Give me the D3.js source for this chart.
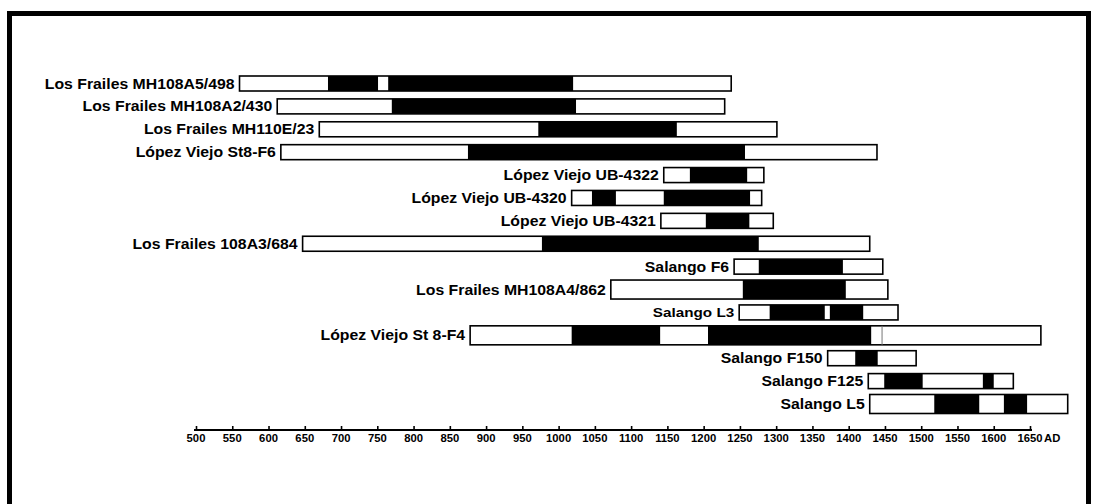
<!DOCTYPE html>
<html>
<head>
<meta charset="utf-8">
<script src="https://cdn.jsdelivr.net/npm/d3@7"></script>
<style>
  html, body { margin: 0; padding: 0; background: #fff; }
  svg { display: block; }
  text { font-family: "Liberation Sans", Arial, sans-serif; font-weight: bold; fill: #000; }
</style>
</head>
<body>
<svg id="chart" width="1098" height="504"></svg>
<script>
// Sample labels, top to bottom
const samples = [
  "Los Frailes MH108A5/498",
  "Los Frailes MH108A2/430",
  "Los Frailes MH110E/23",
  "López Viejo St8-F6",
  "López Viejo UB-4322",
  "López Viejo UB-4320",
  "López Viejo UB-4321",
  "Los Frailes 108A3/684",
  "Salango F6",
  "Los Frailes MH108A4/862",
  "Salango L3",
  "López Viejo St 8-F4",
  "Salango F150",
  "Salango F125",
  "Salango L5"
];

// Full calibrated range (years AD) of each sample
const fullRange = [
  [560, 1238], [612, 1229], [670, 1301], [617, 1439], [1145, 1283],
  [1018, 1280], [1141, 1296], [647, 1429], [1242, 1447], [1072, 1454],
  [1249, 1468], [878, 1665], [1371, 1493], [1427, 1627], [1429, 1702]
];

// Higher-probability intervals (filled black)
const coreRanges = [
  [[682, 751], [765, 1020]],
  [[770, 1024]],
  [[972, 1163]],
  [[875, 1257]],
  [[1181, 1260]],
  [[1046, 1079], [1145, 1264]],
  [[1203, 1263]],
  [[977, 1276]],
  [[1276, 1392]],
  [[1254, 1396]],
  [[1291, 1367], [1374, 1420]],
  [[1018, 1140], [1206, 1431]],
  [[1409, 1440]],
  [[1449, 1502], [1585, 1600]],
  [[1518, 1580], [1614, 1646]]
];

// Thin internal divider lines inside a bar (year AD), by row
const dividers = [[], [], [], [], [], [], [], [], [], [], [], [1446], [], [], []];

// Rows drawn a little taller
const tallRows = [9, 11, 14];

// Slightly smaller label type
const smallLabels = ["Salango L3"];

const tickYears = d3.range(500, 1651, 50);

// horizontal stretch of the lettering
const stretch = 1.13;

const svg = d3.select("#chart");

// frame
svg.append("rect")
  .attr("x", 9.5).attr("y", 13.5)
  .attr("width", 1079).attr("height", 520)
  .attr("fill", "none").attr("stroke", "#000").attr("stroke-width", 5);

const x = d3.scaleLinear().domain([500, 1650]).range([196, 1030]);
const y = d3.scalePoint().domain(samples).range([83.5, 404]);

const rows = svg.append("g").selectAll("g.row")
  .data(samples.map((name, i) => ({
    name, i,
    range: fullRange[i],
    core: coreRanges[i],
    div: dividers[i],
    h: tallRows.includes(i) ? 19 : 15
  })))
  .join("g").attr("class", "row");

// outer white bar
rows.append("rect")
  .attr("x", d => x(d.range[0]))
  .attr("y", d => y(d.name) - d.h / 2)
  .attr("width", d => x(d.range[1]) - x(d.range[0]))
  .attr("height", d => d.h)
  .attr("fill", "#fff").attr("stroke", "#000").attr("stroke-width", 1.6);

// black cores and dividers
rows.each(function (d) {
  const g = d3.select(this);
  g.selectAll("rect.core").data(d.core).join("rect")
    .attr("class", "core")
    .attr("x", c => x(c[0]))
    .attr("y", y(d.name) - d.h / 2)
    .attr("width", c => x(c[1]) - x(c[0]))
    .attr("height", d.h)
    .attr("fill", "#000");
  g.selectAll("line.div").data(d.div).join("line")
    .attr("class", "div")
    .attr("x1", v => x(v)).attr("x2", v => x(v))
    .attr("y1", y(d.name) - d.h / 2).attr("y2", y(d.name) + d.h / 2)
    .attr("stroke", "#777").attr("stroke-width", 1);
});

// labels
rows.append("text")
  .attr("transform", d => `translate(${x(d.range[0]) - 5},${y(d.name)}) scale(${stretch},1)`)
  .attr("dy", "0.36em")
  .attr("text-anchor", "end")
  .attr("font-size", d => smallLabels.includes(d.name) ? 13.5 : 14)
  .text(d => d.name);

// time axis
const axisY = 430;
const axis = d3.axisTop(x)
  .tickValues(tickYears)
  .tickSize(4)
  .tickFormat(() => "");
const ag = svg.append("g").attr("transform", `translate(0,${axisY})`).call(axis);
ag.select(".domain").attr("stroke", "#000").attr("stroke-width", 2.2)
  .attr("d", `M${x(500) - 2},0H${x(1650) + 2}`);
ag.selectAll(".tick line").attr("stroke", "#000").attr("stroke-width", 1.6);

svg.append("g").selectAll("text").data(tickYears).join("text")
  .attr("transform", d => `translate(${x(d)},${axisY + 12}) scale(${stretch},1)`)
  .attr("text-anchor", "middle")
  .attr("font-size", 10)
  .text(d => d);

svg.append("text")
  .attr("transform", `translate(${x(1650) + 14},${axisY + 12}) scale(${stretch},1)`)
  .attr("font-size", 10)
  .text("AD");
</script>
</body>
</html>
